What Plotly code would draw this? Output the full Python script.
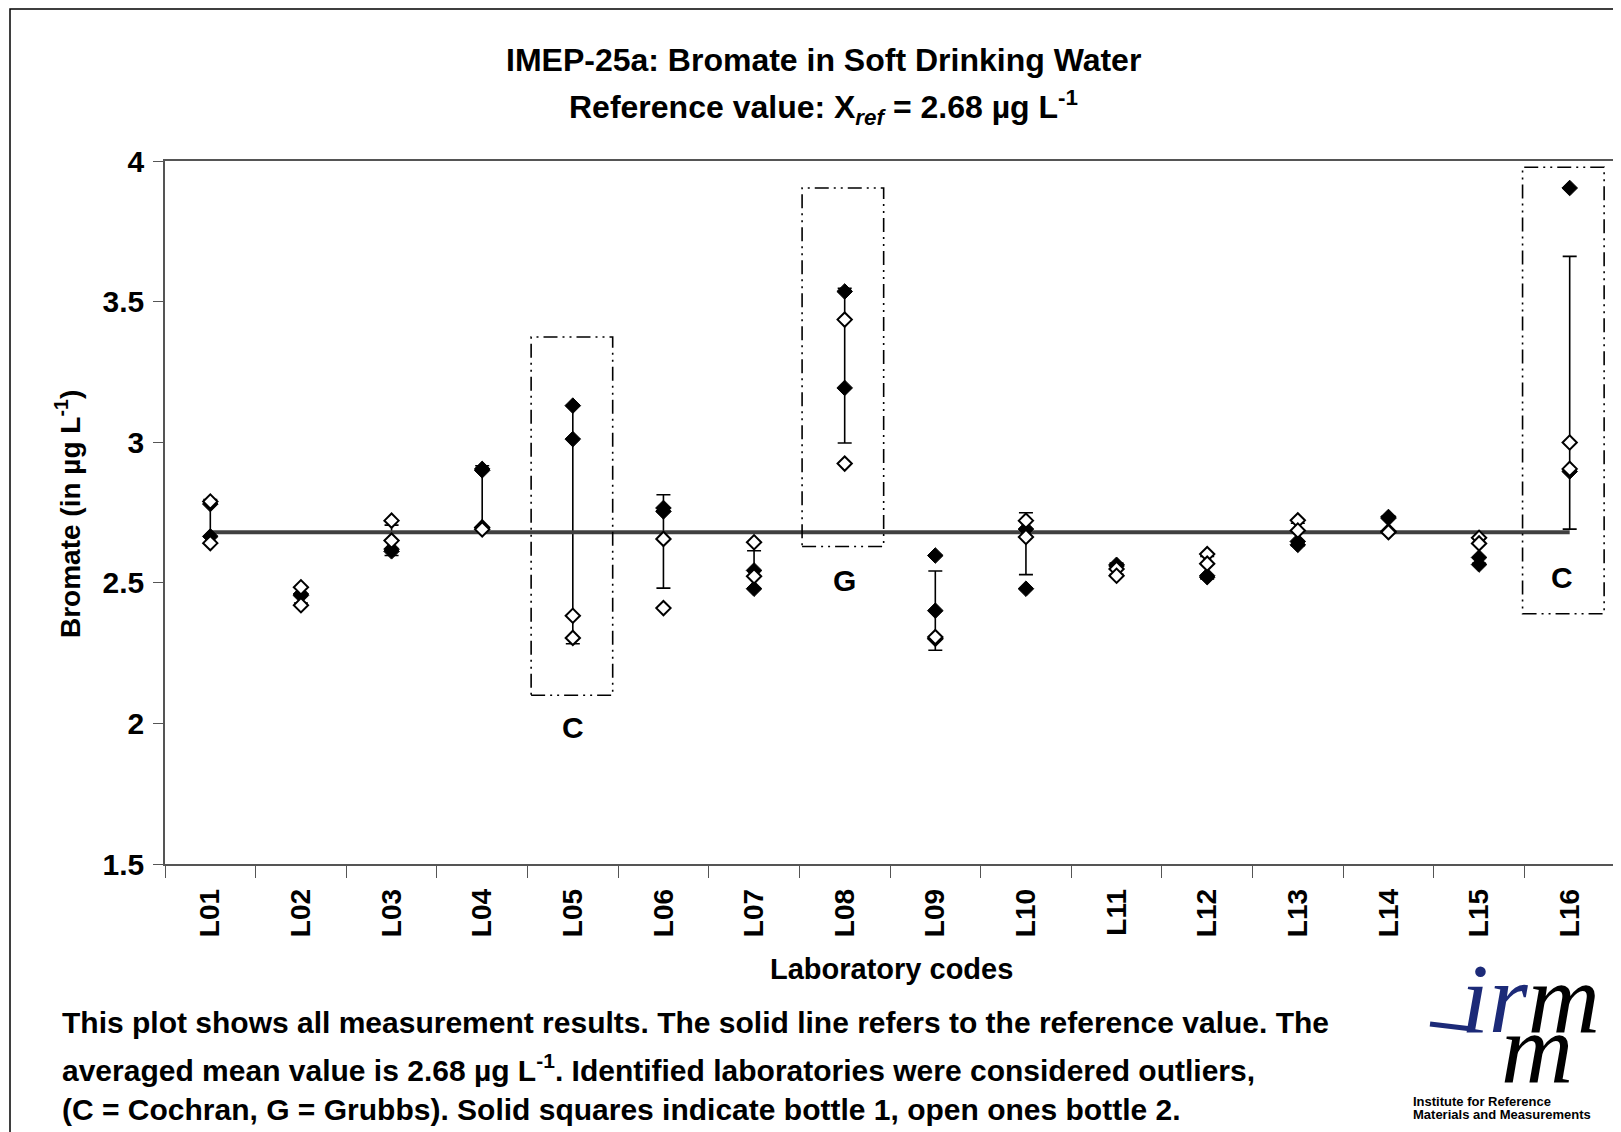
import plotly.graph_objects as go

# --- data ---
labs = ["L01", "L02", "L03", "L04", "L05", "L06", "L07", "L08",
        "L09", "L10", "L11", "L12", "L13", "L14", "L15", "L16"]

# bottle 1 (solid markers), two replicates
b1_rep1 = [2.780, 2.460, 2.612, 2.905, 3.130, 2.766, 2.544, 3.536,
           2.597, 2.691, 2.564, 2.525, 2.647, 2.734, 2.590, 3.904]
b1_rep2 = [2.665, 2.455, 2.620, 2.900, 3.011, 2.754, 2.479, 3.193,
           2.401, 2.479, 2.560, 2.520, 2.635, 2.730, 2.565, 2.896]
# bottle 2 (open markers), two replicates
b2_rep1 = [2.789, 2.484, 2.721, 2.697, 2.383, 2.656, 2.644, 3.436,
           2.301, 2.721, 2.549, 2.602, 2.722, 2.683, 2.660, 2.999]
b2_rep2 = [2.641, 2.420, 2.650, 2.690, 2.304, 2.410, 2.523, 2.924,
           2.307, 2.663, 2.525, 2.568, 2.686, 2.680, 2.640, 2.905]

# lab mean and +/- bar
err_mid = [2.719, 2.455, 2.651, 2.798, 2.707, 2.647, 2.547, 3.272,
           2.401, 2.639, 2.550, 2.554, 2.672, 2.707, 2.614, 3.176]
err_half = [0.077, 0.027, 0.054, 0.118, 0.424, 0.166, 0.067, 0.275,
            0.141, 0.110, 0.020, 0.040, 0.040, 0.030, 0.045, 0.485]

x_ref = 2.68

# outlier boxes
outlier_labs = ["L05", "L08", "L16"]
outlier_flag = ["C", "G", "C"]
outlier_top = [3.374, 3.904, 3.978]
outlier_bottom = [2.100, 2.629, 2.390]
flag_y = [1.985, 2.507, 2.518]

FONT = "Liberation Sans, Arial, sans-serif"
BLACK = "#000000"

fig = go.Figure()

# error bars (behind everything)
fig.add_trace(go.Scatter(
    x=labs, y=err_mid, mode="markers",
    marker=dict(size=1, color="rgba(0,0,0,0)"),
    error_y=dict(type="data", array=err_half, visible=True,
                 color=BLACK, thickness=1.6, width=7),
    hoverinfo="skip", showlegend=False
))

# reference line
fig.add_trace(go.Scatter(
    x=[labs[0], labs[-1]], y=[x_ref, x_ref], mode="lines",
    line=dict(color="#404040", width=4), showlegend=False
))

# bottle 1 - solid diamonds
for ys in (b1_rep1, b1_rep2):
    fig.add_trace(go.Scatter(
        x=labs, y=ys, mode="markers",
        marker=dict(symbol="diamond", size=12, color=BLACK,
                    line=dict(color=BLACK, width=1)),
        showlegend=False
    ))

# bottle 2 - open diamonds
for ys in (b2_rep1, b2_rep2):
    fig.add_trace(go.Scatter(
        x=labs, y=ys, mode="markers",
        marker=dict(symbol="diamond", size=11, color="white",
                    line=dict(color=BLACK, width=2)),
        showlegend=False
    ))

# outlier boxes + flags
box_left = {"L05": 0.46, "L08": 0.47, "L16": 0.52}
box_right = {"L05": 0.44, "L08": 0.43, "L16": 0.38}
flag_dx = {"L05": 0.0, "L08": 0.0, "L16": -0.08}
for lab, flag, top, bot, fy in zip(outlier_labs, outlier_flag, outlier_top,
                                   outlier_bottom, flag_y):
    i = labs.index(lab)
    fig.add_shape(type="rect", xref="x", yref="y",
                  x0=i - box_left[lab], x1=i + box_right[lab], y0=bot, y1=top,
                  line=dict(color=BLACK, width=1.6,
                            dash="14px,5px,2px,5px,2px,5px"))
    fig.add_annotation(x=i + flag_dx[lab], y=fy, xref="x", yref="y",
                       text="<b>%s</b>" % flag, showarrow=False,
                       font=dict(family=FONT, size=30, color=BLACK))

# --- layout helpers (page pixel -> paper); page has an 8px body margin ---
OFF = 8
W, H = 1621, 1132
L, T = 165 - OFF, 161 - OFF
R = W - (1615 - OFF)
B = H - (864 - OFF)


def px(xp):
    return (xp - OFF - L) / (W - L - R)


def py(yp):
    return (H - B - (yp - OFF)) / (H - T - B)


def note(text, x, y, size, xanchor="center", color=BLACK, family=FONT, angle=0):
    fig.add_annotation(x=px(x), y=py(y), xref="paper", yref="paper",
                       text=text, showarrow=False, xanchor=xanchor,
                       yanchor="middle", textangle=angle,
                       font=dict(family=family, size=size, color=color))


note("<b>IMEP-25a: Bromate in Soft Drinking Water</b>", 823, 60, 32)
note("<b>Reference value: X<sub><i>ref</i></sub> = 2.68 µg L<sup>-1</sup></b>", 823, 108, 32)
note("<b>Bromate (in µg L<sup>-1</sup>)</b>", 68, 514, 28, angle=-90)
note("<b>Laboratory codes</b>", 891, 969, 29)

footer = [
    "<b>This plot shows all measurement results. The solid line refers to the reference value. The</b>",
    "<b>averaged mean value is 2.68 µg L<sup>-1</sup>. Identified laboratories were considered outliers,</b>",
    "<b>(C = Cochran, G = Grubbs). Solid squares indicate bottle 1, open ones bottle 2.</b>",
]
for txt, yy in zip(footer, [1023, 1068, 1109]):
    note(txt, 60, yy, 30, xanchor="left")

# logo (approximation)
SERIF = "Liberation Serif, DejaVu Serif, serif"
BLUE = "#1c2a78"
note("<i><span style='color:%s'>ir</span>m</i>" % BLUE, 1530, 998, 100, family=SERIF)
note("<i>m</i>", 1537, 1048, 100, family=SERIF)
note("<b>Institute for Reference</b>", 1411, 1101, 13, xanchor="left")
note("<b>Materials and Measurements</b>", 1411, 1114, 13, xanchor="left")
fig.add_shape(type="line", xref="paper", yref="paper",
              x0=px(1430), x1=px(1472), y0=py(1024), y1=py(1029),
              line=dict(color=BLUE, width=5))

# outer chart border
fig.add_shape(type="rect", xref="paper", yref="paper",
              x0=px(10), x1=px(1660), y0=py(1180), y1=py(9),
              line=dict(color=BLACK, width=1.5), layer="below")

fig.update_layout(
    width=W, height=H,
    margin=dict(l=L, r=R, t=T, b=B),
    paper_bgcolor="white", plot_bgcolor="white",
    font=dict(family=FONT, color=BLACK),
    showlegend=False,
)
fig.update_xaxes(
    type="category", categoryorder="array", categoryarray=labs,
    range=[-0.5, len(labs) - 0.5],
    showline=True, linecolor="#555555", linewidth=1.5, mirror=True,
    ticks="outside", tickson="boundaries", ticklen=12, tickcolor="#555555",
    tickangle=-90, tickfont=dict(family=FONT, size=28, color=BLACK),
    ticklabelstandoff=12,
    showgrid=False, zeroline=False,
    tickvals=labs, ticktext=["<b>%s</b>" % s for s in labs],
)
fig.update_yaxes(
    range=[1.5, 4],
    showline=True, linecolor="#555555", linewidth=1.5, mirror=True,
    ticks="outside", ticklen=10, tickcolor="#555555",
    tickfont=dict(family=FONT, size=30, color=BLACK),
    ticklabelstandoff=3,
    showgrid=False, zeroline=False,
    tickvals=[1.5, 2, 2.5, 3, 3.5, 4],
    ticktext=["<b>1.5</b>", "<b>2</b>", "<b>2.5</b>", "<b>3</b>", "<b>3.5</b>", "<b>4</b>"],
)

fig.write_html("out.html")
